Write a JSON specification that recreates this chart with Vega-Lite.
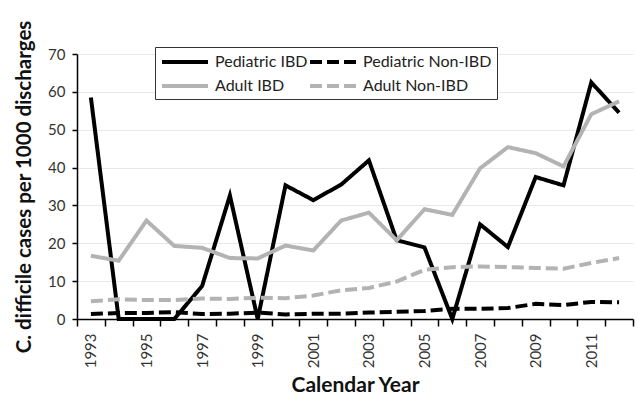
{
  "$schema": "https://vega.github.io/schema/vega-lite/v6.json",
  "autosize": "none",
  "padding": {"left": 77, "top": 54, "right": 5, "bottom": 81},
  "width": 556,
  "height": 265,
  "background": "white",
  "config": {
    "view": {"stroke": null},
    "font": "Lato",
    "axis": {"labelFont": "Lato", "titleFont": "Lato", "labelColor": "#333333", "titleColor": "#111111"}
  },
  "datasets": {
    "rates": [
      {"year": 1993, "series": "Pediatric IBD", "value": 58.5},
      {"year": 1994, "series": "Pediatric IBD", "value": 0},
      {"year": 1995, "series": "Pediatric IBD", "value": 0},
      {"year": 1996, "series": "Pediatric IBD", "value": 0},
      {"year": 1997, "series": "Pediatric IBD", "value": 8.7},
      {"year": 1998, "series": "Pediatric IBD", "value": 32.6},
      {"year": 1999, "series": "Pediatric IBD", "value": 0},
      {"year": 2000, "series": "Pediatric IBD", "value": 35.3},
      {"year": 2001, "series": "Pediatric IBD", "value": 31.4},
      {"year": 2002, "series": "Pediatric IBD", "value": 35.5},
      {"year": 2003, "series": "Pediatric IBD", "value": 41.9},
      {"year": 2004, "series": "Pediatric IBD", "value": 20.8},
      {"year": 2005, "series": "Pediatric IBD", "value": 18.9},
      {"year": 2006, "series": "Pediatric IBD", "value": 0},
      {"year": 2007, "series": "Pediatric IBD", "value": 25.0},
      {"year": 2008, "series": "Pediatric IBD", "value": 19.0},
      {"year": 2009, "series": "Pediatric IBD", "value": 37.5},
      {"year": 2010, "series": "Pediatric IBD", "value": 35.3},
      {"year": 2011, "series": "Pediatric IBD", "value": 62.5},
      {"year": 2012, "series": "Pediatric IBD", "value": 54.5},
      {"year": 1993, "series": "Pediatric Non-IBD", "value": 1.3},
      {"year": 1994, "series": "Pediatric Non-IBD", "value": 1.6},
      {"year": 1995, "series": "Pediatric Non-IBD", "value": 1.6},
      {"year": 1996, "series": "Pediatric Non-IBD", "value": 1.8},
      {"year": 1997, "series": "Pediatric Non-IBD", "value": 1.3},
      {"year": 1998, "series": "Pediatric Non-IBD", "value": 1.4},
      {"year": 1999, "series": "Pediatric Non-IBD", "value": 1.7},
      {"year": 2000, "series": "Pediatric Non-IBD", "value": 1.2},
      {"year": 2001, "series": "Pediatric Non-IBD", "value": 1.4},
      {"year": 2002, "series": "Pediatric Non-IBD", "value": 1.4},
      {"year": 2003, "series": "Pediatric Non-IBD", "value": 1.7},
      {"year": 2004, "series": "Pediatric Non-IBD", "value": 1.9},
      {"year": 2005, "series": "Pediatric Non-IBD", "value": 2.1},
      {"year": 2006, "series": "Pediatric Non-IBD", "value": 2.7},
      {"year": 2007, "series": "Pediatric Non-IBD", "value": 2.7},
      {"year": 2008, "series": "Pediatric Non-IBD", "value": 2.9},
      {"year": 2009, "series": "Pediatric Non-IBD", "value": 4.0},
      {"year": 2010, "series": "Pediatric Non-IBD", "value": 3.7},
      {"year": 2011, "series": "Pediatric Non-IBD", "value": 4.5},
      {"year": 2012, "series": "Pediatric Non-IBD", "value": 4.4},
      {"year": 1993, "series": "Adult IBD", "value": 16.7},
      {"year": 1994, "series": "Adult IBD", "value": 15.4},
      {"year": 1995, "series": "Adult IBD", "value": 26.0},
      {"year": 1996, "series": "Adult IBD", "value": 19.3},
      {"year": 1997, "series": "Adult IBD", "value": 18.8},
      {"year": 1998, "series": "Adult IBD", "value": 16.1},
      {"year": 1999, "series": "Adult IBD", "value": 16.0},
      {"year": 2000, "series": "Adult IBD", "value": 19.4},
      {"year": 2001, "series": "Adult IBD", "value": 18.1},
      {"year": 2002, "series": "Adult IBD", "value": 26.0},
      {"year": 2003, "series": "Adult IBD", "value": 28.1},
      {"year": 2004, "series": "Adult IBD", "value": 20.8},
      {"year": 2005, "series": "Adult IBD", "value": 29.0},
      {"year": 2006, "series": "Adult IBD", "value": 27.5},
      {"year": 2007, "series": "Adult IBD", "value": 39.8},
      {"year": 2008, "series": "Adult IBD", "value": 45.4},
      {"year": 2009, "series": "Adult IBD", "value": 43.8},
      {"year": 2010, "series": "Adult IBD", "value": 40.3},
      {"year": 2011, "series": "Adult IBD", "value": 54.1},
      {"year": 2012, "series": "Adult IBD", "value": 57.5},
      {"year": 1993, "series": "Adult Non-IBD", "value": 4.7},
      {"year": 1994, "series": "Adult Non-IBD", "value": 5.2},
      {"year": 1995, "series": "Adult Non-IBD", "value": 5.0},
      {"year": 1996, "series": "Adult Non-IBD", "value": 5.0},
      {"year": 1997, "series": "Adult Non-IBD", "value": 5.4},
      {"year": 1998, "series": "Adult Non-IBD", "value": 5.3},
      {"year": 1999, "series": "Adult Non-IBD", "value": 5.6},
      {"year": 2000, "series": "Adult Non-IBD", "value": 5.5},
      {"year": 2001, "series": "Adult Non-IBD", "value": 6.2},
      {"year": 2002, "series": "Adult Non-IBD", "value": 7.6},
      {"year": 2003, "series": "Adult Non-IBD", "value": 8.2},
      {"year": 2004, "series": "Adult Non-IBD", "value": 9.9},
      {"year": 2005, "series": "Adult Non-IBD", "value": 13.0},
      {"year": 2006, "series": "Adult Non-IBD", "value": 13.7},
      {"year": 2007, "series": "Adult Non-IBD", "value": 13.9},
      {"year": 2008, "series": "Adult Non-IBD", "value": 13.7},
      {"year": 2009, "series": "Adult Non-IBD", "value": 13.5},
      {"year": 2010, "series": "Adult Non-IBD", "value": 13.3},
      {"year": 2011, "series": "Adult Non-IBD", "value": 14.8},
      {"year": 2012, "series": "Adult Non-IBD", "value": 16.1}
    ]
  },
  "data": {"name": "rates"},
  "mark": {"type": "line", "strokeWidth": 4, "strokeJoin": "miter"},
  "encoding": {
    "x": {
      "field": "year",
      "type": "ordinal",
      "scale": {"type": "band", "paddingInner": 0, "paddingOuter": 0},
      "axis": {
        "title": "Calendar Year",
        "titleFontSize": 21,
        "titleFontWeight": "bold",
        "titlePadding": 7,
        "labelAngle": -90,
        "labelFontSize": 15,
        "labelPadding": 7,
        "labelExpr": "datum.value % 2 == 1 ? datum.label : ''",
        "tickBand": "extent",
        "tickSize": 7,
        "tickColor": "#000000",
        "tickWidth": 1.5,
        "domainColor": "#000000",
        "domainWidth": 1.5,
        "grid": false
      }
    },
    "y": {
      "field": "value",
      "type": "quantitative",
      "scale": {"domain": [0, 70]},
      "axis": {
        "title": "C. difficile cases per 1000 discharges",
        "titleFontSize": 20.5,
        "titleFontWeight": "bold",
        "titlePadding": 13,
        "values": [0, 10, 20, 30, 40, 50, 60, 70],
        "labelFontSize": 15,
        "labelPadding": 7,
        "tickSize": 5,
        "tickColor": "#000000",
        "tickWidth": 1.5,
        "domainColor": "#000000",
        "domainWidth": 1.5,
        "grid": true,
        "gridColor": "#e8e8e8",
        "gridWidth": 1
      }
    },
    "color": {
      "field": "series",
      "type": "nominal",
      "scale": {
        "domain": ["Pediatric IBD", "Pediatric Non-IBD", "Adult IBD", "Adult Non-IBD"],
        "range": ["#000000", "#000000", "#b3b3b3", "#b3b3b3"]
      },
      "legend": {
        "title": null,
        "orient": "none",
        "legendX": 78,
        "legendY": -7,
        "direction": "horizontal",
        "columns": 2,
        "columnPadding": -6,
        "rowPadding": 6,
        "padding": 5,
        "strokeColor": "#333333",
        "fillColor": "white",
        "symbolType": "M-1,0H4.75",
        "symbolSize": 256,
        "symbolStrokeWidth": 4,
        "labelOffset": 35,
        "labelFontSize": 16,
        "labelColor": "#222222",
        "labelFont": "Lato"
      }
    },
    "strokeDash": {
      "field": "series",
      "type": "nominal",
      "scale": {
        "domain": ["Pediatric IBD", "Pediatric Non-IBD", "Adult IBD", "Adult Non-IBD"],
        "range": [[1, 0], [12, 5], [1, 0], [12, 5]]
      },
      "legend": null
    }
  }
}
